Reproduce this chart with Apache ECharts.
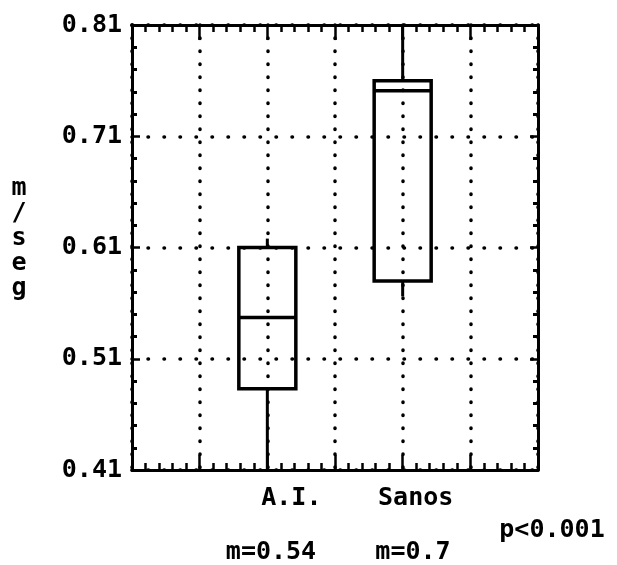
<!DOCTYPE html>
<html>
<head>
<meta charset="utf-8">
<script src="https://cdn.jsdelivr.net/npm/echarts@6/dist/echarts.min.js"></script>
<style>html,body{margin:0;padding:0;background:#fff;}#c{width:617px;height:565px;}</style>
</head>
<body>
<div id="c"></div>
<script>
const categories = ['A.I.', 'Sanos'];
const mins    = [0.410, 0.566];
const q1s     = [0.483, 0.580];
const medians = [0.547, 0.751];
const q3s     = [0.610, 0.760];
const maxs    = [0.618, 0.810];
const xSlots  = ['', '', 'A.I.', '', 'Sanos', '', ''];
const yTicks  = ['0.41', '0.51', '0.61', '0.71', '0.81'];
const meanLabels = ['m=0.54', 'm=0.7'];
const pLabel = 'p<0.001';
const yName = ['m', '/', 's', 'e', 'g'];

const FONT = 'DejaVu Sans Mono';
const boxData = categories.map((c, i) => [c, mins[i], q1s[i], medians[i], q3s[i], maxs[i]]);

const chart = echarts.init(document.getElementById('c'), null, {renderer: 'canvas'});
const blk = '#000';
const option = {
  backgroundColor: '#fff',
  animation: false,
  grid: {left: 132, right: 79, top: 25, bottom: 95},
  xAxis: [
    {
      type: 'category', data: xSlots, boundaryGap: false, position: 'bottom',
      axisLine: {show: true, onZero: false, lineStyle: {color: blk, width: 3}},
      axisTick: {show: true, inside: true, length: 15, interval: 0, lineStyle: {color: blk, width: 2.5}},
      axisLabel: {
        interval: 0, margin: 16, color: blk, fontFamily: FONT, fontSize: 25,
        formatter: v => v === 'A.I.' ? '{a|A.I.}' : (v === 'Sanos' ? '{b|Sanos}' : ''),
        rich: {
          a: {fontFamily: FONT, fontSize: 25, fontWeight: 'bold', color: blk, padding: [0, 0, 0, 48]},
          b: {fontFamily: FONT, fontSize: 25, fontWeight: 'bold', color: blk, padding: [0, 0, 0, 26]}
        }
      },
      splitLine: {show: true, lineStyle: {color: blk, width: 3.5, type: [0.5, 12.5], cap: 'round'}}
    },
    {
      type: 'value', min: 0, max: 6, interval: 1, position: 'bottom',
      axisLine: {show: false, onZero: false},
      axisTick: {show: true, inside: true, length: 15, lineStyle: {color: blk, width: 2.5}},
      minorTick: {show: true, splitNumber: 5, length: 7, lineStyle: {color: blk, width: 2.5}},
      axisLabel: {show: false}, splitLine: {show: false}
    },
    {
      type: 'value', min: 0, max: 6, interval: 1, position: 'top',
      axisLine: {show: true, onZero: false, lineStyle: {color: blk, width: 3}},
      axisTick: {show: true, inside: true, length: 15, lineStyle: {color: blk, width: 2.5}},
      minorTick: {show: true, splitNumber: 5, length: 7, lineStyle: {color: blk, width: 2.5}},
      axisLabel: {show: false}, splitLine: {show: false}
    }
  ],
  yAxis: [
    {
      type: 'value', min: 0.41, max: 0.81, interval: 0.1, position: 'left',
      axisLine: {show: true, onZero: false, lineStyle: {color: blk, width: 3}},
      axisTick: {show: true, inside: true, length: 8, lineStyle: {color: blk, width: 2.5}},
      minorTick: {show: true, splitNumber: 5, length: 5, lineStyle: {color: blk, width: 3}},
      axisLabel: {
        margin: 10, color: blk, fontFamily: FONT, fontWeight: 'bold', fontSize: 25,
        formatter: v => yTicks[Math.round((v - 0.41) / 0.1)] || ''
      },
      splitLine: {show: true, lineStyle: {color: blk, width: 3.5, type: [0.5, 15.5], cap: 'round'}}
    },
    {
      type: 'value', min: 0.41, max: 0.81, interval: 0.1, position: 'right',
      axisLine: {show: true, onZero: false, lineStyle: {color: blk, width: 3}},
      axisTick: {show: true, inside: true, length: 8, lineStyle: {color: blk, width: 2.5}},
      minorTick: {show: true, splitNumber: 5, length: 5, lineStyle: {color: blk, width: 3}},
      axisLabel: {show: false}, splitLine: {show: false}
    }
  ],
  series: [{
    type: 'custom',
    xAxisIndex: 0, yAxisIndex: 0,
    data: boxData,
    encode: {x: 0, y: [1, 2, 3, 4, 5]},
    renderItem: function (params, api) {
      const x = api.value(0);
      const pMin = api.coord([x, api.value(1)]);
      const pQ1 = api.coord([x, api.value(2)]);
      const pMed = api.coord([x, api.value(3)]);
      const pQ3 = api.coord([x, api.value(4)]);
      const pMax = api.coord([x, api.value(5)]);
      const half = 28.5;
      const st = {stroke: blk, lineWidth: 3, fill: null};
      return {
        type: 'group',
        children: [
          {type: 'line', shape: {x1: pMax[0], y1: pMax[1], x2: pQ3[0], y2: pQ3[1]}, style: st},
          {type: 'line', shape: {x1: pQ1[0], y1: pQ1[1], x2: pMin[0], y2: pMin[1]}, style: st},
          {type: 'rect', shape: {x: pQ3[0] - half, y: pQ3[1], width: half * 2, height: pQ1[1] - pQ3[1]}, style: {stroke: blk, lineWidth: 3.5, fill: 'transparent'}},
          {type: 'line', shape: {x1: pMed[0] - half, y1: pMed[1], x2: pMed[0] + half, y2: pMed[1]}, style: {stroke: blk, lineWidth: 3.5}}
        ]
      };
    }
  }],
  graphic: [
    {type: 'text', style: {x: 19, y: 238, text: yName.join('\n'), lineHeight: 25, fill: blk, font: 'bold 25px "DejaVu Sans Mono"', textAlign: 'center', textVerticalAlign: 'middle'}},
    {type: 'text', style: {x: 271, y: 552, text: meanLabels[0], fill: blk, font: 'bold 25px "DejaVu Sans Mono"', textAlign: 'center', textVerticalAlign: 'middle'}},
    {type: 'text', style: {x: 413, y: 552, text: meanLabels[1], fill: blk, font: 'bold 25px "DejaVu Sans Mono"', textAlign: 'center', textVerticalAlign: 'middle'}},
    {type: 'text', style: {x: 552, y: 530, text: pLabel, fill: blk, font: 'bold 25px "DejaVu Sans Mono"', textAlign: 'center', textVerticalAlign: 'middle'}}
  ]
};
chart.setOption(option);
</script>
</body>
</html>
